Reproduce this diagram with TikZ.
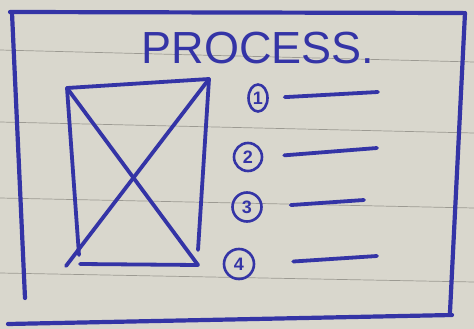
\documentclass[tikz,border=0pt]{standalone}
\usepackage{fontspec}
\setmainfont{Liberation Sans}
\usetikzlibrary{positioning,shapes.geometric}
\definecolor{Paper}{HTML}{D9D7CD}
\definecolor{Ink}{HTML}{3434A6}
\definecolor{Rule}{HTML}{9C9A92}

\begin{document}
\begin{tikzpicture}[x=1pt,y=-1pt,
    ink/.style={draw=Ink,line width=3.8pt,line cap=round,line join=round},
    item/.style={circle,draw=Ink,line width=2.6pt,text=Ink,inner sep=0pt,minimum size=28pt,font=\fontsize{18}{18}\selectfont\bfseries}]
    % paper and ruled lines
    \fill[Paper] (0,0) rectangle (474,329);
    \useasboundingbox (0,0) rectangle (474,329);
    \foreach \a/\b in {50/62,122/133,198/208,273/282}
      \draw[Rule,line width=0.7pt] (0,\a) -- (474,\b);
    % outer frame
    \draw[ink,line width=4.2pt] (12,13) -- (25,298);
    \draw[ink,line width=4.2pt] (10,12) -- (463,13);
    \draw[ink,line width=4.2pt] (465,13) -- (450,312);
    \draw[ink,line width=4.2pt] (8,324) -- (452,315);
    % title
    \node[text=Ink,anchor=base,font=\fontsize{45}{45}\selectfont] (title) at (258,64) {PROCESS.};
    % image placeholder
    \coordinate (tl) at (67,88);
    \coordinate (tr) at (209,79);
    \coordinate (br) at (198,265);
    \coordinate (bl) at (80,264);
    \draw[ink] (tl) -- (tr);
    \draw[ink] (tr) -- (198,250);
    \draw[ink] (bl) -- (br);
    \draw[ink] (tl) -- (79,255);
    \draw[ink] (tl) -- (br);
    \draw[ink] (tr) -- (66,266);
    % numbered list
    \node[item,ellipse,minimum width=19pt,minimum height=27pt] (n1) at (258,98) {1};
    \node[item] (n2) at (248,157) {2};
    \node[item,minimum size=29pt] (n3) at (247,207) {3};
    \node[item,minimum size=30pt] (n4) at (239,264) {4};
    \coordinate (e1) at (378,92);
    \coordinate (e2) at (377,148);
    \coordinate (e3) at (364,200);
    \coordinate (e4) at (377,256);
    \draw[ink,shorten <=16pt] (n1.east) -- (e1);
    \draw[ink,shorten <=21pt] (n2.east) -- (e2);
    \draw[ink,shorten <=28pt] (n3.east) -- (e3);
    \draw[ink,shorten <=38pt] (n4.east) -- (e4);
\end{tikzpicture}
\end{document}
